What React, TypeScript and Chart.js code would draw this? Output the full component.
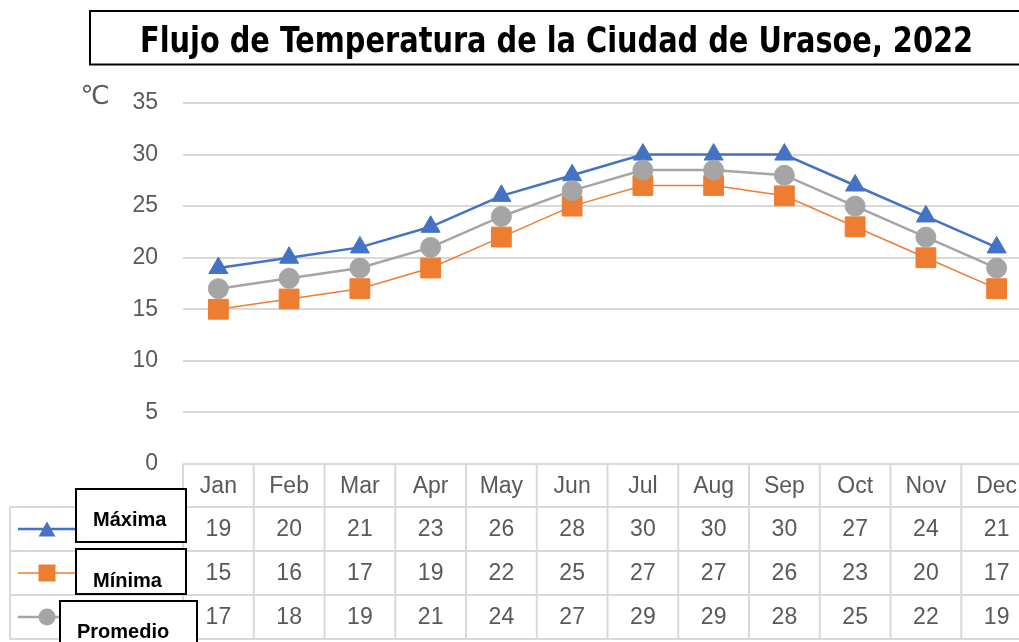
import React, { useEffect, useRef } from 'react';
import { Chart, registerables } from 'chart.js';

Chart.register(...registerables);

const TITLE = 'Flujo de Temperatura de la Ciudad de Urasoe, 2022';
const UNIT_LABEL = '℃';
const MONTHS = ['Jan', 'Feb', 'Mar', 'Apr', 'May', 'Jun', 'Jul', 'Aug', 'Sep', 'Oct', 'Nov', 'Dec'];
const MAXIMA = [19, 20, 21, 23, 26, 28, 30, 30, 30, 27, 24, 21];
const MINIMA = [15, 16, 17, 19, 22, 25, 27, 27, 26, 23, 20, 17];
const PROMEDIO = [17, 18, 19, 21, 24, 26.5, 28.5, 28.5, 28, 25, 22, 19];
const SERIES_NAMES = ['Máxima', 'Mínima', 'Promedio'];
const Y_MIN = 0;
const Y_MAX = 35;
const Y_STEP = 5;

const COLORS = ['#4472C4', '#ED7D31', '#A5A5A5'];
const LINE_WIDTHS = [2.5, 1.5, 2.5];
const POINT_STYLES = ['triangle', 'rect', 'circle'];
const POINT_RADII = [11, 14, 10];

const CANVAS_W = 1047;
const CANVAS_H = 642;
const TEXT_GRAY = '#595959';
const GRID = '#d9d9d9';
const TABLE_FONT = '23px "Liberation Sans", Arial, sans-serif';

function drawMarker(ctx: CanvasRenderingContext2D, style: string, x: number, y: number, color: string) {
  ctx.fillStyle = color;
  ctx.beginPath();
  if (style === 'triangle') {
    const w = 17;
    const h = 15;
    ctx.moveTo(x, y - h / 2);
    ctx.lineTo(x + w / 2, y + h / 2);
    ctx.lineTo(x - w / 2, y + h / 2);
    ctx.closePath();
  } else if (style === 'rect') {
    ctx.rect(x - 8.5, y - 8.5, 17, 17);
  } else {
    ctx.arc(x, y, 8.5, 0, Math.PI * 2);
  }
  ctx.fill();
}

const decorPlugin = {
  id: 'decorPlugin',
  afterDraw(chart: any) {
    const ctx: CanvasRenderingContext2D = chart.ctx;
    const xs = chart.scales.x;
    const area = chart.chartArea;
    const colW = xs.getPixelForValue(1) - xs.getPixelForValue(0);
    const left = area.left;
    const right = area.right;
    const top = area.bottom;
    const headerH = 43;
    const rowH = 44;
    const legendLeft = 10;
    const rowTops = [top + headerH, top + headerH + rowH, top + headerH + 2 * rowH];
    const bottom = top + headerH + 3 * rowH;

    ctx.save();

    // Title box
    ctx.fillStyle = '#ffffff';
    ctx.fillRect(90, 11, 970, 53.5);
    ctx.strokeStyle = '#000000';
    ctx.lineWidth = 2;
    ctx.strokeRect(90, 11, 970, 53.5);
    ctx.fillStyle = '#000000';
    ctx.font = 'bold 36px "DejaVu Sans Condensed", "DejaVu Sans", sans-serif';
    ctx.textAlign = 'center';
    ctx.textBaseline = 'alphabetic';
    ctx.fillText(TITLE, 556.5, 52, 833);

    // Unit label
    ctx.fillStyle = TEXT_GRAY;
    ctx.font = '26px "DejaVu Sans", sans-serif';
    ctx.textAlign = 'center';
    ctx.textBaseline = 'middle';
    ctx.fillText(UNIT_LABEL, 95, 97);

    // Table grid
    ctx.strokeStyle = GRID;
    ctx.lineWidth = 2;
    const line = (x1: number, y1: number, x2: number, y2: number) => {
      ctx.beginPath();
      ctx.moveTo(x1, y1);
      ctx.lineTo(x2, y2);
      ctx.stroke();
    };
    line(left, top, right, top);
    rowTops.forEach((y) => line(legendLeft, y, right, y));
    line(legendLeft, bottom, right, bottom);
    line(legendLeft, rowTops[0], legendLeft, bottom);
    for (let i = 0; i <= MONTHS.length; i++) {
      const xx = left + i * colW;
      line(xx, top, xx, bottom);
    }

    // Table text
    ctx.fillStyle = TEXT_GRAY;
    ctx.font = TABLE_FONT;
    ctx.textAlign = 'center';
    ctx.textBaseline = 'middle';
    MONTHS.forEach((m, i) => {
      ctx.fillText(m, xs.getPixelForValue(i), top + headerH / 2 + 1.5);
    });
    const tableSeries = [MAXIMA, MINIMA, PROMEDIO];
    tableSeries.forEach((vals, r) => {
      const cy = rowTops[r] + rowH / 2 + 1;
      vals.forEach((v, i) => {
        ctx.fillText(String(Math.round(v)), xs.getPixelForValue(i), cy);
      });
    });

    // Legend keys
    tableSeries.forEach((_, r) => {
      const cy = rowTops[r] + rowH / 2;
      ctx.strokeStyle = COLORS[r];
      ctx.lineWidth = LINE_WIDTHS[r];
      line(18, cy, 80, cy);
      drawMarker(ctx, POINT_STYLES[r], 47, cy, COLORS[r]);
    });

    // Label boxes
    const boxes = [
      { x: 76, y: 489, w: 110, h: 53, tx: 93, ty: 520 },
      { x: 76, y: 549, w: 110, h: 45, tx: 93, ty: 581 },
      { x: 60, y: 601, w: 137, h: 60, tx: 77, ty: 632 },
    ];
    boxes.forEach((b, r) => {
      ctx.fillStyle = '#ffffff';
      ctx.fillRect(b.x, b.y, b.w, b.h);
      ctx.strokeStyle = '#000000';
      ctx.lineWidth = 2;
      ctx.strokeRect(b.x, b.y, b.w, b.h);
      ctx.fillStyle = '#000000';
      ctx.font = 'bold 20px "Liberation Sans", Arial, sans-serif';
      ctx.textAlign = 'left';
      ctx.textBaseline = 'middle';
      ctx.fillText(SERIES_NAMES[r], b.tx, b.ty);
    });

    ctx.restore();
  },
};

export default function App() {
  const canvasRef = useRef<HTMLCanvasElement | null>(null);

  useEffect(() => {
    const canvas = canvasRef.current;
    if (!canvas) return;
    const seriesData = [MAXIMA, MINIMA, PROMEDIO];
    const orders = [1, 2, 0];
    const chart = new Chart(canvas, {
      type: 'line',
      data: {
        labels: MONTHS,
        datasets: seriesData.map((d, i) => ({
          label: SERIES_NAMES[i],
          data: d,
          borderColor: COLORS[i],
          backgroundColor: COLORS[i],
          borderWidth: LINE_WIDTHS[i],
          pointStyle: POINT_STYLES[i] as any,
          pointRadius: POINT_RADII[i],
          pointBorderWidth: 1,
          pointBackgroundColor: COLORS[i],
          pointBorderColor: COLORS[i],
          tension: 0,
          order: orders[i],
        })),
      },
      options: {
        animation: false,
        responsive: false,
        devicePixelRatio: 1,
        layout: { padding: { left: 0, right: 0, top: 103, bottom: 178 } },
        plugins: {
          legend: { display: false },
          title: { display: false },
          tooltip: { enabled: false },
        },
        scales: {
          x: {
            type: 'category',
            display: false,
            offset: true,
          },
          y: {
            min: Y_MIN,
            max: Y_MAX,
            border: { display: false },
            grid: { color: GRID, lineWidth: 2, drawTicks: false },
            ticks: {
              stepSize: Y_STEP,
              padding: 25,
              color: TEXT_GRAY,
              font: { family: '"Liberation Sans", Arial, sans-serif', size: 23 },
            },
            afterFit: (scale: any) => {
              scale.width = 183;
            },
          },
        },
      },
      plugins: [decorPlugin],
    });
    return () => chart.destroy();
  }, []);

  return (
    <div
      style={{
        position: 'absolute',
        left: 0,
        top: 0,
        width: 1019,
        height: 642,
        overflow: 'hidden',
        background: '#ffffff',
      }}
    >
      <canvas ref={canvasRef} width={CANVAS_W} height={CANVAS_H} style={{ display: 'block' }} />
    </div>
  );
}
